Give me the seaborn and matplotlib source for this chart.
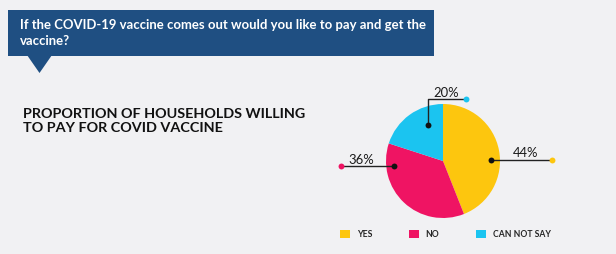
import matplotlib
matplotlib.use("Agg")
import matplotlib.pyplot as plt
import seaborn as sns
from matplotlib.patches import Rectangle, Polygon

# --- data ---------------------------------------------------------------
categories = ["YES", "NO", "CAN NOT SAY"]
shares = [44, 36, 20]
slice_colors = ["#fdc60e", "#ef1463", "#1bc4f0"]

question_lines = ["If the COVID-19 vaccine comes out would you like to pay and get the",
                  "vaccine?"]
subtitle_lines = ["PROPORTION OF HOUSEHOLDS WILLING", "TO PAY FOR COVID VACCINE"]

# --- style --------------------------------------------------------------
sns.set_theme(style="white")
plt.rcParams["font.family"] = ["Lato", "DejaVu Sans"]
BG = "#f1f1f3"
BANNER = "#1f4f82"

W, H = 616, 254
fig = plt.figure(figsize=(W / 100, H / 100), dpi=100)
fig.patch.set_facecolor(BG)

# full-figure canvas in pixel units for the banner and headline
bg = fig.add_axes([0, 0, 1, 1])
bg.set_xlim(0, W)
bg.set_ylim(H, 0)
bg.axis("off")
bg.set_facecolor("none")

bg.add_patch(Rectangle((8, 10), 426, 46, facecolor=BANNER, edgecolor="none"))
bg.add_patch(Polygon([(27, 55), (52, 55), (39.5, 73)], closed=True,
                     facecolor=BANNER, edgecolor="none"))
for i, line in enumerate(question_lines):
    bg.text(20, 29 + 16 * i, line, color="white", fontsize=9.45,
            fontweight="bold", va="baseline", ha="left")
for i, line in enumerate(subtitle_lines):
    bg.text(23, 117.5 + 14.5 * i, line, color="#111111", fontsize=10.4,
            fontweight="bold", va="baseline", ha="left")

# --- pie ----------------------------------------------------------------
cx, cy, R = 443, 161, 57
half_w, half_h = 120, 80
ax = fig.add_axes([(cx - half_w) / W, (H - cy - half_h) / H,
                   2 * half_w / W, 2 * half_h / H])
ax.axis("off")
ax.set_facecolor("none")

wedges, _ = ax.pie(shares, colors=slice_colors, startangle=90,
                   counterclock=False, radius=1.0, center=(0, 0),
                   wedgeprops=dict(linewidth=0))
ax.set_xlim(-half_w / R, half_w / R)
ax.set_ylim(-half_h / R, half_h / R)


def to_pie(x, y):
    return (x - cx) / R, (cy - y) / R


# leader lines: path in pixels, label anchor in pixels
leaders = [
    ([(491, 160), (552, 160)], (526, 157)),
    ([(394, 166), (341, 166)], (361, 164)),
    ([(428, 125), (428, 99), (466, 99)], (446, 97)),
]

for value, color, (path, anchor) in zip(shares, slice_colors, leaders):
    pts = [to_pie(*p) for p in path]
    xs, ys = zip(*pts)
    ax.plot(xs, ys, color="#222222", lw=1.0, zorder=3, solid_capstyle="butt")
    ax.scatter([xs[0]], [ys[0]], s=18, color="#111111", zorder=4, linewidths=0)
    ax.scatter([xs[-1]], [ys[-1]], s=18, color=color, zorder=4, linewidths=0)
    tx, ty = to_pie(*anchor)
    ax.text(tx, ty, f"{value}%", fontsize=9.4, color="#1a1a1a",
            ha="center", va="baseline", zorder=5)

# --- legend -------------------------------------------------------------
fig.legend(wedges, categories, ncol=3, loc="center",
           bbox_to_anchor=(445.5 / W, 1 - 234.5 / H), frameon=False,
           handlelength=1.15, handleheight=1.15, handletextpad=0.8,
           columnspacing=4.25,
           prop=dict(family=["Lato", "DejaVu Sans"], weight="bold", size=6.2))

fig.savefig("out.png", dpi=100, facecolor=BG)
